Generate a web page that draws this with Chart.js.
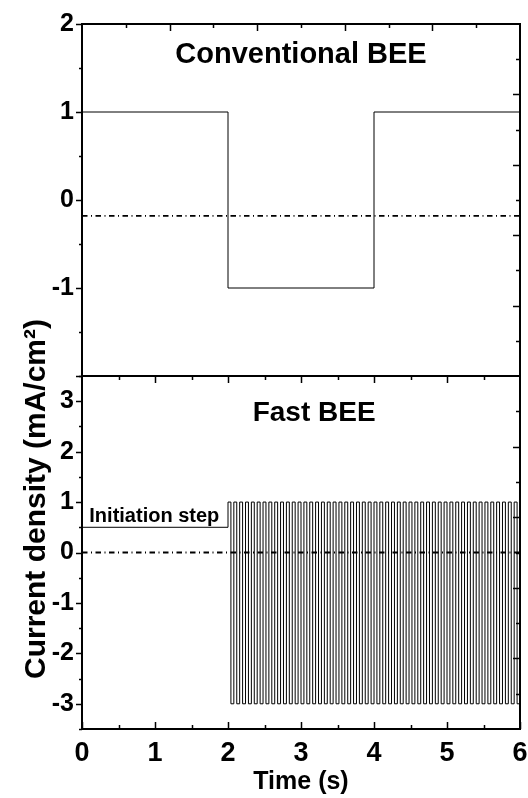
<!DOCTYPE html>
<html>
<head>
<meta charset="utf-8">
<script src="https://cdn.jsdelivr.net/npm/chart.js@4/dist/chart.umd.min.js"></script>
<style>
  html, body { margin: 0; background: #fff; }
  #wrap { position: relative; width: 528px; height: 798px; }
  #wrap canvas { position: absolute; left: 0; top: 0; }
</style>
</head>
<body>
<div id="wrap">
  <canvas id="convChart" width="528" height="798"></canvas>
  <canvas id="fastChart" width="528" height="798"></canvas>
</div>
<script>
// Conventional BEE: 2 s anodic / 2 s cathodic / anodic again
const convTime = [0, 2, 4, 6];
const convCurrent = [1, -1, 1, 1];
const convRefTime = [0, 6];
const convRef = [-0.18, -0.18];

// Fast BEE: initiation step, then 0.04 s pulses between +1 and -3
const fastTime = [0,
  2.00, 2.04, 2.08, 2.12, 2.16, 2.20, 2.24, 2.28, 2.32, 2.36, 2.40, 2.44, 2.48, 2.52, 2.56, 2.60, 2.64, 2.68, 2.72, 2.76, 2.80, 2.84, 2.88, 2.92, 2.96,
  3.00, 3.04, 3.08, 3.12, 3.16, 3.20, 3.24, 3.28, 3.32, 3.36, 3.40, 3.44, 3.48, 3.52, 3.56, 3.60, 3.64, 3.68, 3.72, 3.76, 3.80, 3.84, 3.88, 3.92, 3.96,
  4.00, 4.04, 4.08, 4.12, 4.16, 4.20, 4.24, 4.28, 4.32, 4.36, 4.40, 4.44, 4.48, 4.52, 4.56, 4.60, 4.64, 4.68, 4.72, 4.76, 4.80, 4.84, 4.88, 4.92, 4.96,
  5.00, 5.04, 5.08, 5.12, 5.16, 5.20, 5.24, 5.28, 5.32, 5.36, 5.40, 5.44, 5.48, 5.52, 5.56, 5.60, 5.64, 5.68, 5.72, 5.76, 5.80, 5.84, 5.88, 5.92, 5.96,
  6.00];
const fastCurrent = [0.5,
  1, -3, 1, -3, 1, -3, 1, -3, 1, -3, 1, -3, 1, -3, 1, -3, 1, -3, 1, -3, 1, -3, 1, -3, 1,
  -3, 1, -3, 1, -3, 1, -3, 1, -3, 1, -3, 1, -3, 1, -3, 1, -3, 1, -3, 1, -3, 1, -3, 1, -3,
  1, -3, 1, -3, 1, -3, 1, -3, 1, -3, 1, -3, 1, -3, 1, -3, 1, -3, 1, -3, 1, -3, 1, -3, 1,
  -3, 1, -3, 1, -3, 1, -3, 1, -3, 1, -3, 1, -3, 1, -3, 1, -3, 1, -3, 1, -3, 1, -3, 1, -3,
  -3];
const fastRefTime = [0, 6];
const fastRef = [0, 0];

const timeTicks = [0, 1, 2, 3, 4, 5, 6];
const convTicks = [-2, -1, 0, 1, 2];
const fastTicks = [-3, -2, -1, 0, 1, 2, 3];

const FONT = '"Liberation Sans", Arial, Helvetica, sans-serif';
Chart.defaults.font.family = FONT;
Chart.defaults.color = '#000';

const toPoints = (xs, ys) => xs.map((x, i) => ({ x: x, y: ys[i] }));

// frame with Origin-style ticks: left outward, others inward
function frameTicks(topEvenDivs, bottomTicks) {
  return {
    id: 'frameTicks',
    afterDraw(chart) {
      const { ctx, chartArea: a, scales: { x, y } } = chart;
      ctx.save();
      ctx.strokeStyle = '#000';
      ctx.lineWidth = 1.5;
      ctx.beginPath();
      const seg = (x1, y1, x2, y2) => { ctx.moveTo(x1, y1); ctx.lineTo(x2, y2); };

      // left: majors on integers, minors on halves
      const nL = Math.round((y.max - y.min) / 0.5);
      for (let k = 0; k <= nL; k++) {
        const v = y.min + k * 0.5;
        const py = Math.round(y.getPixelForValue(v)) + 0.5;
        const len = Math.abs(v - Math.round(v)) < 1e-6 ? 6 : 3;
        seg(a.left - len, py, a.left, py);
      }
      // right: ten divisions
      for (let k = 1; k < 10; k++) {
        const v = y.min + k * (y.max - y.min) / 10;
        const py = Math.round(y.getPixelForValue(v)) + 0.5;
        const len = k % 2 === 0 ? 7 : 4;
        seg(a.right - len, py, a.right, py);
      }
      // top
      if (topEvenDivs) {
        for (let k = 1; k < 10; k++) {
          const px = Math.round(x.getPixelForValue(x.min + k * (x.max - x.min) / 10)) + 0.5;
          seg(px, a.top, px, a.top + (k % 2 === 0 ? 7 : 4));
        }
      } else {
        for (let k = 1; k < 12; k++) {
          const px = Math.round(x.getPixelForValue(k * 0.5)) + 0.5;
          seg(px, a.top, px, a.top + (k % 2 === 0 ? 7 : 4));
        }
      }
      // bottom
      if (bottomTicks) {
        for (let k = 0; k <= 12; k++) {
          const px = Math.round(x.getPixelForValue(k * 0.5)) + 0.5;
          seg(px, a.bottom, px, a.bottom - (k % 2 === 0 ? 7 : 4));
        }
      }
      ctx.stroke();
      ctx.lineWidth = 2;
      ctx.strokeRect(a.left, a.top, a.right - a.left, a.bottom - a.top);
      ctx.restore();
    }
  };
}

// text placed in data coordinates
function panelText(items, extra) {
  return {
    id: 'panelText',
    afterDraw(chart) {
      const { ctx, scales: { x, y } } = chart;
      ctx.save();
      ctx.fillStyle = '#000';
      ctx.textBaseline = 'alphabetic';
      items.forEach(t => {
        ctx.font = 'bold ' + t.size + 'px ' + FONT;
        ctx.textAlign = t.align;
        ctx.fillText(t.text, x.getPixelForValue(t.x), y.getPixelForValue(t.y));
      });
      if (extra) extra(ctx);
      ctx.restore();
    }
  };
}

function yScale(min, max, ticks) {
  return {
    type: 'linear', min: min, max: max,
    afterFit(s) { s.width = 82; },
    afterBuildTicks(s) { s.ticks = ticks.map(v => ({ value: v })); },
    grid: { display: false, drawTicks: false },
    border: { display: false },
    ticks: {
      padding: 8,
      font: { size: 25, weight: 'bold' },
      callback: v => (v === min ? '' : v)
    }
  };
}

function lineSet(points, dashed) {
  return {
    data: points,
    borderColor: '#000',
    borderWidth: dashed ? 1.8 : 1,
    borderDash: dashed ? [5.5, 3.5, 1, 3.5] : [],
    stepped: dashed ? false : true,
    pointRadius: 0,
    fill: false
  };
}

new Chart(document.getElementById('convChart'), {
  type: 'line',
  data: {
    datasets: [
      lineSet(toPoints(convTime, convCurrent), false),
      lineSet(toPoints(convRefTime, convRef), true)
    ]
  },
  options: {
    responsive: false,
    animation: false,
    layout: { padding: { top: 24, right: 8, bottom: 422, left: 0 } },
    plugins: { legend: { display: false }, tooltip: { enabled: false } },
    scales: {
      x: { type: 'linear', min: 0, max: 6, display: false },
      y: yScale(-2, 2, convTicks)
    }
  },
  plugins: [
    frameTicks(true, false),
    panelText([{ text: 'Conventional BEE', x: 3, y: 1.56, size: 29, align: 'center' }])
  ]
});

new Chart(document.getElementById('fastChart'), {
  type: 'line',
  data: {
    datasets: [
      lineSet(toPoints(fastTime, fastCurrent), false),
      lineSet(toPoints(fastRefTime, fastRef), true)
    ]
  },
  options: {
    responsive: false,
    animation: false,
    layout: { padding: { top: 376, right: 8, bottom: 0, left: 0 } },
    plugins: { legend: { display: false }, tooltip: { enabled: false } },
    scales: {
      x: {
        type: 'linear', min: 0, max: 6,
        afterFit(s) { s.height = 69; s.paddingLeft = 0; s.paddingRight = 0; },
        afterBuildTicks(s) { s.ticks = timeTicks.map(v => ({ value: v })); },
        grid: { display: false, drawTicks: false },
        border: { display: false },
        ticks: { padding: 8, maxRotation: 0, font: { size: 27, weight: 'bold' } },
        title: {
          display: true, text: 'Time (s)',
          font: { size: 25, weight: 'bold' },
          padding: { top: 0, bottom: 1 }
        }
      },
      y: yScale(-3.5, 3.5, fastTicks)
    }
  },
  plugins: [
    frameTicks(false, true),
    panelText([
      { text: 'Fast BEE', x: 3.18, y: 2.61, size: 28, align: 'center' },
      { text: 'Initiation step', x: 0.1, y: 0.6, size: 20, align: 'left' }
    ], ctx => {
      // shared y-axis title for both panels
      ctx.translate(45, 499);
      ctx.rotate(-Math.PI / 2);
      ctx.textAlign = 'center';
      ctx.font = 'bold 30px ' + FONT;
      ctx.fillText('Current density (mA/cm\u00B2)', 0, 0);
    })
  ]
});
</script>
</body>
</html>
